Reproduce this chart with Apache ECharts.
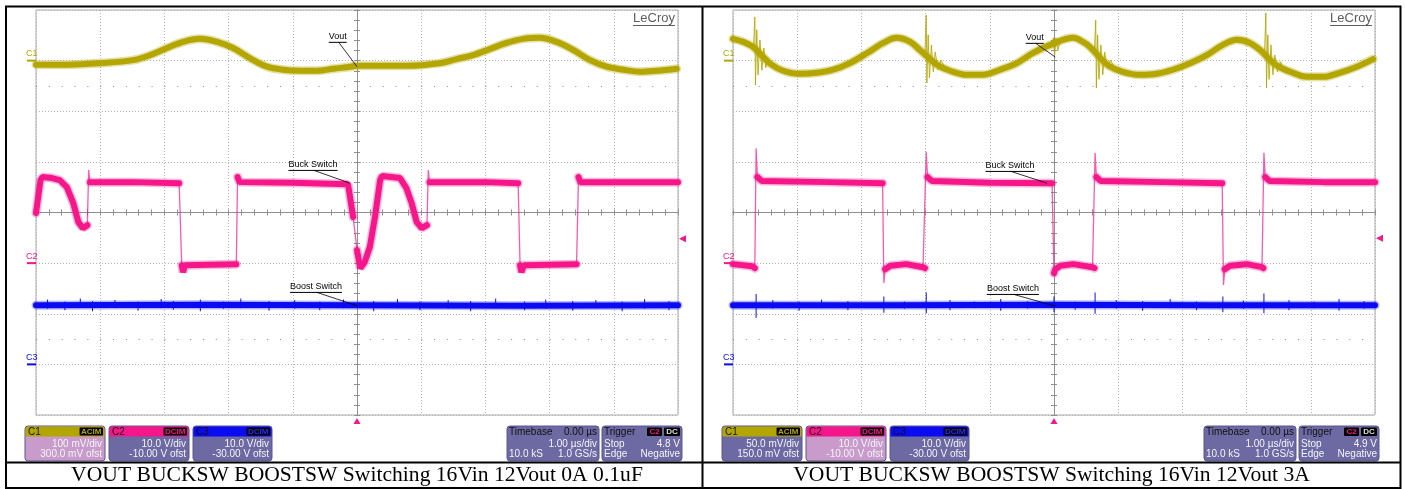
<!DOCTYPE html>
<html><head><meta charset="utf-8">
<script src="https://cdn.jsdelivr.net/npm/echarts@6/dist/echarts.min.js"></script>
<style>html,body{margin:0;padding:0;background:#fff}#c{width:1405px;height:489px}</style>
</head><body><div id="c"></div>
<script>
// ===== DATA (time in µs, value in screen divisions) =====
const voutBand0A = [[-5.0,2.92],[-4.5,2.92],[-4.0,2.95],[-3.49,3.01],[-3.22,3.11],[-2.96,3.25],[-2.71,3.37],[-2.45,3.43],[-2.18,3.37],[-1.93,3.25],[-1.67,3.05],[-1.4,2.88],[-1.15,2.82],[-0.89,2.80],[-0.62,2.80],[-0.37,2.84],[-0.1,2.88],[0,2.90],[0.25,2.90],[0.77,2.90],[1.29,2.95],[1.55,3.03],[1.81,3.11],[2.07,3.23],[2.33,3.35],[2.59,3.43],[2.85,3.45],[3.11,3.37],[3.37,3.21],[3.63,3.01],[3.89,2.88],[4.15,2.82],[4.41,2.78],[4.67,2.80],[4.98,2.84]];
const voutRing0A = [];
const buck0A = [[-5.0,-0.01],[-4.93,0.64],[-4.9,0.70],[-4.75,0.68],[-4.63,0.64],[-4.52,0.50],[-4.42,0.19],[-4.34,-0.19],[-4.27,-0.31],[-4.2,-0.25],[-4.18,0.84],[-4.16,0.60],[-3.5,0.60],[-2.77,0.58],[-2.73,-1.04],[-2.71,-1.18],[-2.68,-1.04],[-2.3,-1.03],[-1.88,-1.02],[-1.86,0.70],[-1.83,0.60],[-1.0,0.59],[-0.14,0.56],[-0.06,-0.09],[0.0,-0.74],[0.05,-1.10],[0.12,-0.98],[0.2,-0.68],[0.28,-0.09],[0.36,0.64],[0.39,0.72],[0.67,0.68],[0.77,0.48],[0.85,0.19],[0.93,-0.19],[1.01,-0.31],[1.09,-0.25],[1.11,0.84],[1.13,0.60],[2.0,0.60],[2.51,0.58],[2.54,-1.04],[2.56,-1.18],[2.6,-1.04],[3.0,-1.03],[3.42,-1.02],[3.45,0.70],[3.48,0.60],[4.2,0.60],[5.0,0.60]];
const boost0A = [[-5,-1.83],[-2.5,-1.82],[0,-1.83],[2.5,-1.84],[5,-1.83]];
const boostSpikes0A = [[-4.82,-1.72,-1.90],[-4.55,-1.76,-1.93],[-4.31,-1.70,-1.88],[-4.12,-1.75,-1.95],[-3.77,-1.73,-1.89],[-3.41,-1.76,-1.94],[-3.05,-1.71,-1.89],[-2.86,-1.75,-1.92],[-2.44,-1.72,-1.95],[-2.08,-1.76,-1.90],[-1.81,-1.70,-1.89],[-1.37,-1.75,-1.94],[-0.97,-1.73,-1.90],[-0.58,-1.76,-1.93],[-0.21,-1.72,-1.89],[0.26,-1.75,-1.95],[0.63,-1.71,-1.89],[0.98,-1.76,-1.93],[1.42,-1.73,-1.90],[1.77,-1.75,-1.95],[2.16,-1.70,-1.89],[2.61,-1.76,-1.93],[2.94,-1.72,-1.90],[3.36,-1.75,-1.94],[3.72,-1.73,-1.89],[4.13,-1.76,-1.95],[4.48,-1.71,-1.90],[4.86,-1.75,-1.93]];

const voutBand3A = [[-5.0,3.43],[-4.84,3.37],[-4.70,3.28],[-4.55,3.10],[-4.40,2.92],[-4.22,2.80],[-3.96,2.74],[-3.69,2.76],[-3.44,2.82],[-3.18,2.95],[-2.91,3.15],[-2.66,3.35],[-2.45,3.45],[-2.24,3.37],[-2.09,3.21],[-1.95,3.05],[-1.80,2.90],[-1.62,2.80],[-1.36,2.72],[-1.11,2.72],[-0.84,2.82],[-0.58,2.95],[-0.33,3.15],[-0.06,3.31],[0.30,3.45],[0.45,3.37],[0.56,3.27],[0.70,3.08],[0.85,2.90],[1.07,2.78],[1.34,2.72],[1.60,2.74],[1.85,2.82],[2.12,2.95],[2.38,3.11],[2.63,3.31],[2.85,3.41],[3.05,3.35],[3.21,3.21],[3.35,3.03],[3.50,2.88],[3.68,2.78],[3.94,2.68],[4.19,2.68],[4.45,2.76],[4.72,2.88],[4.97,3.03]];
const voutRing3A = [
  [[-4.68,3.27],[-4.66,3.86],[-4.65,2.52],[-4.63,3.61],[-4.61,2.72],[-4.58,3.41],[-4.55,2.81],[-4.52,3.25],[-4.49,2.86],[-4.45,3.05],[-4.40,2.86],[-4.35,2.93]],
  [[-2.01,3.17],[-1.99,3.90],[-1.98,2.56],[-1.96,3.51],[-1.94,2.66],[-1.91,3.31],[-1.88,2.78],[-1.85,3.17],[-1.81,2.82],[-1.76,3.01],[-1.70,2.86]],
  [[-0.03,3.30],[-0.01,3.45],[0.01,3.11],[0.03,3.45],[0.06,3.20],[0.10,3.41]],
  [[0.63,3.21],[0.65,3.80],[0.66,2.46],[0.68,3.51],[0.70,2.63],[0.73,3.31],[0.76,2.72],[0.79,3.17],[0.83,2.86],[0.88,3.01],[0.94,2.86]],
  [[3.28,3.17],[3.30,3.94],[3.31,2.46],[3.33,3.51],[3.35,2.63],[3.38,3.31],[3.41,2.72],[3.44,3.11],[3.48,2.78],[3.53,2.98],[3.58,2.78]]
];
const buck3A = [[-5.0,-1.02],[-4.70,-1.06],[-4.66,-1.10],[-4.64,1.27],[-4.62,0.70],[-4.55,0.62],[-3.5,0.60],[-2.67,0.58],[-2.65,-1.39],[-2.63,-1.12],[-2.55,-1.05],[-2.3,-1.02],[-2.04,-1.08],[-2.01,-1.10],[-1.99,1.20],[-1.97,0.70],[-1.90,0.62],[-1.0,0.59],[-0.03,0.58],[0.0,-1.20],[0.02,-1.12],[0.10,-1.05],[0.3,-1.02],[0.60,-1.08],[0.63,-1.10],[0.64,1.18],[0.66,0.70],[0.73,0.62],[1.7,0.60],[2.62,0.58],[2.64,-1.43],[2.66,-1.12],[2.74,-1.05],[3.0,-1.02],[3.24,-1.08],[3.26,-1.10],[3.27,1.18],[3.29,0.70],[3.36,0.62],[4.2,0.60],[5.0,0.60]];
const boost3A = [[-5,-1.83],[-2.5,-1.83],[0,-1.82],[2.5,-1.83],[5,-1.83]];
const boostSpikes3A = [[-4.64,-1.61,-2.08],[-4.38,-1.73,-1.90],[-3.97,-1.76,-1.94],[-3.62,-1.72,-1.89],[-3.21,-1.75,-1.93],[-2.65,-1.66,-1.98],[-2.33,-1.76,-1.90],[-1.99,-1.58,-1.99],[-1.62,-1.73,-1.93],[-1.24,-1.76,-1.89],[-0.83,-1.71,-1.94],[-0.41,-1.75,-1.90],[0.0,-1.66,-1.97],[0.33,-1.76,-1.92],[0.64,-1.58,-2.0],[0.97,-1.73,-1.90],[1.38,-1.75,-1.94],[1.81,-1.71,-1.89],[2.22,-1.76,-1.93],[2.63,-1.66,-1.97],[2.95,-1.74,-1.90],[3.27,-1.60,-1.99],[3.66,-1.73,-1.93],[4.05,-1.76,-1.89],[4.44,-1.71,-1.94],[4.83,-1.75,-1.90]];

const captions = ['VOUT BUCKSW BOOSTSW Switching 16Vin 12Vout 0A 0.1uF', 'VOUT BUCKSW BOOSTSW Switching 16Vin 12Vout 3A'];
const c1Settings = [['100 mV/div','300.0 mV ofst'], ['50.0 mV/div','150.0 mV ofst']];
const c2Settings = [['10.0 V/div','-10.00 V ofst'], ['10.0 V/div','-10.00 V ofst']];
const c3Settings = [['10.0 V/div','-30.00 V ofst'], ['10.0 V/div','-30.00 V ofst']];
const channelOffsetDiv = [3, -1, -3];
const triggerVolts = [4.8, 4.9];
const timebaseText = ['0.00 µs','1.00 µs/div','10.0 kS','1.0 GS/s'];
const selectedBox = [0, 1];

// ===== STYLE =====
const OLIVE = '#B3A600', PINK = '#F5168A', BLUE = '#0B0BF2';
const AX = '#8f8f8f', GRIDDOT = '#b2b2b2';
const FONT = '"Liberation Sans", Arial, sans-serif';
const gridLefts = [36, 733];

const chart = echarts.init(document.getElementById('c'), null, {renderer: 'canvas'});

function breakSteep(data, thr) {
  const out = [];
  for (let i = 0; i < data.length; i++) {
    if (i > 0) {
      const a = data[i-1], b = data[i];
      const dt = Math.abs(b[0]-a[0]), dv = Math.abs(b[1]-a[1]);
      if (dt === 0 || dv/dt > thr) out.push([b[0], '-']);
    }
    out.push(data[i]);
  }
  return out;
}
function spikeLines(sp) { const o = []; sp.forEach(s => { o.push([s[0], s[1]], [s[0], s[2]], [s[0], '-']); }); return o; }
function ringLines(r) { const o = []; r.forEach(ev => { ev.forEach(p => o.push(p)); o.push([ev[ev.length-1][0], '-']); }); return o; }

const grids = [], xAxes = [], yAxes = [], series = [];
const tickCommon = (len) => ({show: true, length: len, lineStyle: {color: AX, width: 1}});
gridLefts.forEach((gl, g) => {
  grids.push({left: gl, top: 10, width: 642, height: 405, show: true, borderColor: '#a9a9a9', borderWidth: 1, containLabel: false, outerBoundsMode: 'none'});
  ['bottom','top'].forEach((pos, k) => xAxes.push({
    gridIndex: g, type: 'value', min: -5, max: 5, interval: 1, position: pos,
    axisLine: {show: true, onZero: true, lineStyle: {color: AX, width: 1}},
    axisTick: tickCommon(3), minorTick: Object.assign({splitNumber: 5}, tickCommon(3)),
    splitLine: {show: k === 0, lineStyle: {color: GRIDDOT, width: 1, type: [1, 2]}},
    axisLabel: {show: false}
  }));
  ['left','right'].forEach((pos, k) => yAxes.push({
    gridIndex: g, type: 'value', min: -4, max: 4, interval: 1, position: pos,
    axisLine: {show: true, onZero: true, lineStyle: {color: AX, width: 1}},
    axisTick: tickCommon(3), minorTick: Object.assign({splitNumber: 5}, tickCommon(3)),
    splitLine: {show: k === 0, lineStyle: {color: GRIDDOT, width: 1, type: [1, 2]}},
    axisLabel: {show: false}
  }));
});

const panelData = [
  {vout: voutBand0A, ring: voutRing0A, buck: buck0A, boost: boost0A, spikes: boostSpikes0A},
  {vout: voutBand3A, ring: voutRing3A, buck: buck3A, boost: boost3A, spikes: boostSpikes3A}
];
panelData.forEach((p, g) => {
  const ax = {xAxisIndex: 2*g, yAxisIndex: 2*g, type: 'line', symbol: 'none', silent: true, animation: false};
  series.push(Object.assign({}, ax, {data: [], markLine: {silent: true, symbol: 'none', label: {show: false},
    lineStyle: {color: '#8a8a8a', width: 1, type: [1, 11.84]}, data: [{yAxis: 2.5}, {yAxis: -2.5}]}}));
  // C1
  series.push(Object.assign({}, ax, {data: p.vout, smooth: 0.35, lineStyle: {color: OLIVE, width: 9, opacity: 0.35, cap: 'round'}}));
  series.push(Object.assign({}, ax, {data: p.vout, smooth: 0.35, lineStyle: {color: OLIVE, width: 6, cap: 'round'}}));
  series.push(Object.assign({}, ax, {data: ringLines(p.ring), lineStyle: {color: OLIVE, width: 1, opacity: 0.85}}));
  // C2
  series.push(Object.assign({}, ax, {data: p.buck, lineStyle: {color: PINK, width: 1.3, opacity: 0.7}}));
  series.push(Object.assign({}, ax, {data: breakSteep(p.buck, 10), lineStyle: {color: PINK, width: 9, opacity: 0.3, cap: 'round'}}));
  series.push(Object.assign({}, ax, {data: breakSteep(p.buck, 10), lineStyle: {color: PINK, width: 6, cap: 'round'}}));
  // C3
  series.push(Object.assign({}, ax, {data: p.boost, lineStyle: {color: BLUE, width: 9, opacity: 0.3, cap: 'round'}}));
  series.push(Object.assign({}, ax, {data: p.boost, lineStyle: {color: BLUE, width: 6, cap: 'round'}}));
  series.push(Object.assign({}, ax, {data: spikeLines(p.spikes), lineStyle: {color: BLUE, width: 1}}));
});

chart.setOption({animation: false, backgroundColor: '#fff', grid: grids, xAxis: xAxes, yAxis: yAxes, series: series});

// ===== decorations (positioned through the axes) =====
const mctx = document.createElement('canvas').getContext('2d');
function textW(t, font) { mctx.font = font; return mctx.measureText(t).width; }
function px(g, t, v) { return chart.convertToPixel({xAxisIndex: 2*g, yAxisIndex: 2*g}, [t, v]); }

const annos = [
  [{text: 'Vout', at: [-0.30, 3.47], to: [0.0, 2.88]}, {text: 'Buck Switch', at: [-0.685, 0.94], to: [-0.11, 0.58]}, {text: 'Boost Switch', at: [-0.64, -1.47], to: [0.02, -1.85]}],
  [{text: 'Vout', at: [-0.30, 3.45], to: [0.02, 3.07]}, {text: 'Buck Switch', at: [-0.685, 0.92], to: [-0.11, 0.58]}, {text: 'Boost Switch', at: [-0.64, -1.51], to: [0.02, -1.85]}]
];

const gr = [];
gr.push({type: 'rect', shape: {x: 6, y: 6.5, width: 1394.5, height: 481.5}, style: {fill: 'none', stroke: '#000', lineWidth: 2}, z: 100});
gr.push({type: 'line', shape: {x1: 702.5, y1: 6, x2: 702.5, y2: 488}, style: {stroke: '#000', lineWidth: 2}, z: 100});
gr.push({type: 'line', shape: {x1: 6, y1: 462.5, x2: 1400, y2: 462.5}, style: {stroke: '#000', lineWidth: 2}, z: 100});

const chColors = [OLIVE, PINK, BLUE];
function addText(x, y, text, font, fill, align, vAlign) {
  gr.push({type: 'text', x: x, y: y, z: 50, style: {text: text, font: font, fill: fill, align: align || 'left', verticalAlign: vAlign || 'middle'}});
}
function addBox(x, w, header, headerColor, badge, badgeColor, lines, selected) {
  const body = selected ? '#C89BCB' : '#6D69A3';
  gr.push({type: 'rect', z: 40, shape: {x: x, y: 426, width: w, height: 35, r: 3}, style: {fill: body, stroke: '#5a5690', lineWidth: 1}});
  if (headerColor) gr.push({type: 'rect', z: 41, shape: {x: x + 0.5, y: 426.5, width: w - 1, height: 10, r: [3,3,0,0]}, style: {fill: headerColor}});
  addText(x + 3, 432, header, '10px ' + FONT, '#111');
  if (badge) {
    const bw = textW(badge, 'bold 8px ' + FONT) + 3;
    gr.push({type: 'rect', z: 45, shape: {x: x + w - bw - 2, y: 427.5, width: bw, height: 8, r: 1}, style: {fill: '#000'}});
    addText(x + w - 2 - bw / 2, 431.8, badge, 'bold 8px ' + FONT, badgeColor, 'center');
  }
  addText(x + w - 3, 444, lines[0], '10px ' + FONT, '#f4f4f8', 'right');
  addText(x + w - 3, 454.5, lines[1], '10px ' + FONT, '#f4f4f8', 'right');
}

gridLefts.forEach((gl, g) => {
  const grR = px(g, 5, 0);
  const lw = textW('LeCroy', '13px ' + FONT);
  addText(grR[0] - 3, 18, 'LeCroy', '13px ' + FONT, '#5e5e5e', 'right');
  gr.push({type: 'line', z: 50, shape: {x1: grR[0] - 3 - lw, y1: 25.5, x2: grR[0] - 3, y2: 25.5}, style: {stroke: '#5e5e5e', lineWidth: 1}});
  channelOffsetDiv.forEach((d, i) => {
    const p = px(g, -5, d);
    addText(p[0] - 10, p[1] - 7, 'C' + (i + 1), '9px ' + FONT, chColors[i]);
    gr.push({type: 'line', z: 50, shape: {x1: p[0] - 9, y1: p[1], x2: p[0], y2: p[1]}, style: {stroke: chColors[i], lineWidth: 2}});
  });
  const tl = (triggerVolts[g] - 10) / 10;
  const ta = px(g, 5, tl);
  gr.push({type: 'polygon', z: 50, shape: {points: [[ta[0] + 1, ta[1]], [ta[0] + 8, ta[1] - 3.5], [ta[0] + 8, ta[1] + 3.5]]}, style: {fill: PINK}});
  const tb = px(g, 0, -4);
  gr.push({type: 'polygon', z: 50, shape: {points: [[tb[0], tb[1] + 3], [tb[0] - 3.5, tb[1] + 9], [tb[0] + 3.5, tb[1] + 9]]}, style: {fill: PINK}});
  annos[g].forEach(a => {
    const f = '9px ' + FONT;
    const c = px(g, a.at[0], a.at[1]);
    const w = textW(a.text, f);
    addText(c[0], c[1], a.text, f, '#000', 'center');
    const uy = c[1] + 5.5;
    gr.push({type: 'line', z: 50, shape: {x1: c[0] - w / 2, y1: uy, x2: c[0] + w / 2, y2: uy}, style: {stroke: '#000', lineWidth: 1}});
    const e = px(g, a.to[0], a.to[1]);
    gr.push({type: 'line', z: 50, shape: {x1: c[0] + 1, y1: uy, x2: e[0], y2: e[1]}, style: {stroke: '#000', lineWidth: 0.8}});
  });
  addBox(gl - 11, 80, 'C1', OLIVE, 'ACIM', OLIVE, c1Settings[g], selectedBox[g] === 0);
  addBox(gl + 73, 80, 'C2', PINK, 'DCIM', PINK, c2Settings[g], selectedBox[g] === 1);
  addBox(gl + 157, 79, 'C3', BLUE, 'DCIM', '#2b2bff', c3Settings[g], selectedBox[g] === 2);
  const tx = gl + 471, tw = 92;
  gr.push({type: 'rect', z: 40, shape: {x: tx, y: 426, width: tw, height: 35, r: 3}, style: {fill: '#6D69A3', stroke: '#5a5690', lineWidth: 1}});
  addText(tx + 2, 432, 'Timebase', '10px ' + FONT, '#111');
  addText(tx + tw - 2, 432, timebaseText[0], '10px ' + FONT, '#111', 'right');
  addText(tx + tw - 2, 444, timebaseText[1], '10px ' + FONT, '#f4f4f8', 'right');
  addText(tx + 2, 454.5, timebaseText[2], '10px ' + FONT, '#f4f4f8');
  addText(tx + tw - 2, 454.5, timebaseText[3], '10px ' + FONT, '#f4f4f8', 'right');
  const rx = gl + 566, rw = 80;
  gr.push({type: 'rect', z: 40, shape: {x: rx, y: 426, width: rw, height: 35, r: 3}, style: {fill: '#6D69A3', stroke: '#5a5690', lineWidth: 1}});
  addText(rx + 2, 432, 'Trigger', '10px ' + FONT, '#111');
  gr.push({type: 'rect', z: 45, shape: {x: rx + rw - 35, y: 427.5, width: 15, height: 8.5, r: 1}, style: {fill: '#000'}});
  addText(rx + rw - 27.5, 432, 'C2', 'bold 8px ' + FONT, PINK, 'center');
  gr.push({type: 'rect', z: 45, shape: {x: rx + rw - 18, y: 427.5, width: 16, height: 8.5, r: 1}, style: {fill: '#000'}});
  addText(rx + rw - 10, 432, 'DC', 'bold 8px ' + FONT, '#ddd', 'center');
  addText(rx + 2, 444, 'Stop', '10px ' + FONT, '#f4f4f8');
  addText(rx + rw - 2, 444, triggerVolts[g].toFixed(1) + ' V', '10px ' + FONT, '#f4f4f8', 'right');
  addText(rx + 2, 454.5, 'Edge', '10px ' + FONT, '#f4f4f8');
  addText(rx + rw - 2, 454.5, 'Negative', '10px ' + FONT, '#f4f4f8', 'right');
  addText(g === 0 ? 357 : 1051.5, 475.5, captions[g], '21.6px "Liberation Serif", "Times New Roman", serif', '#000', 'center');
});

chart.setOption({graphic: gr});
</script></body></html>
